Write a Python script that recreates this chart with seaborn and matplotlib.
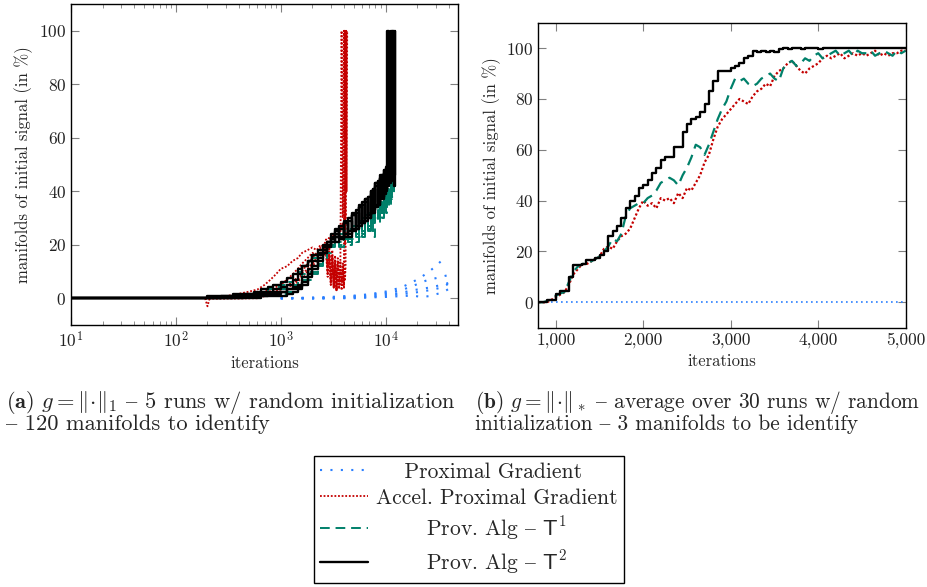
import numpy as np
import matplotlib
import matplotlib.pyplot as plt
import seaborn as sns
from matplotlib.lines import Line2D

matplotlib.use("Agg")

sns.set_theme(style="ticks")
plt.rcParams['font.family'] = ['cmr10', 'DejaVu Serif']
plt.rcParams['mathtext.fontset'] = 'cm'
plt.rcParams['axes.formatter.use_mathtext'] = True
plt.rcParams['axes.unicode_minus'] = False

BLUE = "#2a7fff"
RED = "#c40000"
GREEN = "#00806a"
BLACK = "#000000"
DASH = "{"  # en dash slot in the cmr10 font

# ---- (a) l1 norm, 5 runs each, log iterations ----
grid_a = [10, 190, 200, 270, 350, 450, 550, 650, 750, 850,
          1000, 1150, 1300, 1450, 1600, 1800, 2000, 2250, 2500, 2750,
          3000, 3300, 3600, 4000, 4400, 4800, 5200, 5600, 6000, 6400,
          6800, 7200, 7600, 8000, 8400, 8800, 9200, 9600, 10000, 10400,
          10800, 11200, 11600, 12000, 12400]

t2_runs = [
    [0, 0, 0.8, 0.8, 1.7, 1.7, 2.5, 3.3, 4.2, 5, 6, 7.5, 9, 11, 12, 14, 16, 18, 20, 21,
     23, 25, 22, 28, 23, 31, 26, 34, 28, 36, 30, 39, 33, 42, 35, 45, 38, 47, 41, 100, 45, 100],
    [0, 0, 0, 0.8, 0.8, 1.7, 1.7, 2.5, 2.5, 3.3, 4.2, 5, 7, 9, 12, 14, 16, 17, 19, 21,
     24, 21, 27, 23, 30, 25, 33, 27, 36, 29, 38, 32, 41, 34, 44, 37, 46, 40, 49, 43, 50, 100],
    [0, 0, 0, 0, 0.8, 0.8, 0.8, 1.7, 1.7, 2.5, 2.5, 3.3, 4.2, 5, 8, 11, 14, 16, 18, 20,
     22, 26, 23, 29, 25, 32, 27, 35, 29, 37, 31, 40, 33, 43, 36, 45, 38, 48, 41, 49, 44, 50, 100],
    [0, 0, 0, 0, 0, 0.8, 0.8, 0.8, 1.7, 1.7, 2.5, 3.3, 3.3, 4.2, 6, 9, 12, 15, 17, 19,
     21, 24, 22, 28, 24, 31, 26, 34, 28, 37, 30, 40, 32, 43, 35, 46, 37, 48, 40, 50, 43, 47, 100, 42, 100],
    [0, 0, 0, 0, 0, 0, 0, 0.8, 0.8, 0.8, 0.8, 1.7, 2.5, 3.3, 5, 8, 11, 14, 17, 19,
     21, 23, 26, 24, 29, 26, 32, 28, 35, 30, 38, 32, 41, 35, 44, 37, 46, 39, 48, 42, 50, 44, 49, 46, 100],
]

t1_runs = [
    [0, 0, 0, 0.8, 0.8, 1.7, 1.7, 2.5, 3.3, 4.2, 5, 6, 8, 10, 12, 14, 15, 17, 19, 20,
     21, 22, 20, 24, 21, 26, 23, 28, 24, 30, 26, 32, 28, 34, 30, 36, 32, 38, 34, 40, 36, 80, 40, 100],
    [0, 0, 0, 0, 0.8, 0.8, 1.7, 1.7, 2.5, 2.5, 3.3, 4.2, 5, 7, 9, 11, 13, 15, 17, 19,
     20, 21, 23, 21, 25, 22, 27, 23, 29, 25, 31, 27, 33, 29, 35, 31, 37, 33, 39, 35, 41, 37, 100],
    [0, 0, 0, 0, 0, 0.8, 0.8, 1.7, 1.7, 2.5, 2.5, 3.3, 4.2, 5, 7, 10, 13, 16, 18, 20,
     22, 23, 21, 25, 22, 27, 24, 29, 25, 31, 27, 33, 29, 35, 30, 37, 32, 39, 34, 41, 36, 43, 38, 45, 100],
    [0, 0, 0, 0, 0, 0, 0.8, 0.8, 1.7, 1.7, 2.5, 2.5, 3.3, 4.2, 6, 8, 10, 13, 15, 17,
     19, 21, 19, 23, 20, 25, 21, 27, 23, 29, 25, 31, 23, 33, 28, 35, 30, 37, 32, 39, 34, 41, 100],
    [0, 0, 0, 0, 0, 0, 0, 0.8, 0.8, 1.7, 1.7, 2.5, 3.3, 4.2, 5, 7, 9, 12, 15, 18,
     20, 22, 24, 22, 26, 23, 28, 24, 30, 26, 32, 28, 34, 30, 36, 32, 38, 34, 40, 36, 42, 38, 44, 40, 100],
]

grid_acc = [190, 200, 210, 300, 400, 500, 600, 700, 800, 900,
            1000, 1150, 1300, 1450, 1600, 1800, 2000, 2200, 2400, 2600,
            2700, 2800, 2900, 3000, 3100, 3200, 3300, 3400, 3500, 3600,
            3700, 3800, 3900, 4000, 4050, 4100, 4150, 4200, 4250, 4300,
            4350]

acc_runs = [
    [0, -3, 0, 0.8, 1.7, 2.5, 3.3, 5, 7, 9, 11, 12, 14, 15, 17, 18, 19, 18, 20, 19,
     17, 8, 18, 5, 15, 4, 12, 3, 14, 5, 11, 100, 30, 100, 60, 100],
    [0, 0, 0, 0, 0.8, 0.8, 1.7, 2.5, 3.3, 4.2, 5, 7, 9, 11, 13, 15, 17, 16, 18, 17,
     19, 10, 17, 6, 16, 4, 13, 3, 12, 4, 10, 3, 8, 5, 100, 20, 100, 40, 100],
    [0, 0, 0, 0, 0, 0.8, 0.8, 1.7, 2.5, 3.3, 4.2, 5, 6, 8, 10, 13, 15, 17, 19, 20,
     22, 21, 23, 22, 24, 23, 25, 24, 26, 25, 27, 26, 28, 27, 100, 50, 100],
    [0, 0, 0, 0, 0, 0, 0.8, 1.7, 1.7, 2.5, 3.3, 4.2, 5, 7, 9, 11, 13, 15, 17, 16,
     18, 9, 17, 5, 16, 4, 14, 3, 12, 4, 10, 6, 12, 4, 9, 100, 30, 100],
    [0, 0, 0, 0, 0, 0, 0, 0.8, 1.7, 2.5, 3.3, 4.2, 5, 6, 8, 10, 12, 14, 16, 18,
     20, 12, 19, 7, 18, 5, 16, 3, 15, 4, 14, 5, 13, 4, 11, 7, 12, 100, 40, 100],
]

grid_pg = [1000, 2000, 3000, 5000, 7000, 10000, 14000, 18000, 22000, 26000,
           30000, 34000, 38000, 42000, 45000]

pg_runs = [
    [0, 0.3, 0.5, 1, 1.5, 2.5, 4, 6, 8, 10, 12, 14, 15.5],
    [0, 0, 0.3, 0.8, 1.2, 2, 3, 4.5, 6, 7, 7.5, 8, 8.5, 9, 8.5],
    [0, 0, 0, 0.5, 0.8, 1.5, 2, 3, 3.5, 4, 4.5, 5, 5.5, 6, 7],
    [0, 0, 0, 0.2, 0.5, 1, 1.5, 2, 2.5, 3, 3.5, 4, 5, 6, 5],
    [0, 0, 0, 0, 0.3, 0.5, 0.8, 1, 0.5, 0.8, 1.5, 2, 3, 4, 4.5],
]

# ---- (b) nuclear norm, average over 30 runs ----
iters_b = np.arange(800, 5001, 50)
t2_avg = [0, 0, 1, 1, 3.3, 4.5, 4.5, 10, 14.5, 14.5,
          15, 16.5, 16.5, 17.5, 18.5, 20, 26, 28, 30, 33,
          37, 40, 42, 45, 46, 48, 51, 53, 56, 57,
          57, 61, 61, 67, 70, 72, 73, 75, 78, 83,
          87, 91, 91, 91, 92, 93, 94, 96, 97, 99,
          98.5, 99, 98.5, 99, 98.5, 99.5, 100, 99.5, 100, 100,
          99.5, 100, 100, 100, 99.5, 100, 100, 100, 100, 100,
          100, 100, 100, 100, 100, 100, 100, 100, 100, 100,
          100, 100, 100, 100, 100]
t1_avg = [0, 0, 0.5, 1.5, 2.5, 3.5, 4, 8, 12, 14,
          15, 15.5, 16, 17, 18, 20, 22, 25, 24, 27,
          34, 37, 38, 39, 39, 41, 42, 44, 47, 48,
          49, 48, 46, 50, 53, 57, 62, 61, 58, 62,
          67, 72, 76, 79, 84, 88, 87, 88, 86, 85,
          86, 88, 89, 90, 88, 87, 92, 94, 95, 93,
          94, 96, 95, 97, 98, 96, 97, 98, 99, 97,
          98, 99, 97, 99, 98, 98, 99, 97, 98, 99,
          98, 97, 99, 98, 99]
acc_avg = [0, 0, 0, 1, 2, 3, 4, 7, 11, 13,
           15, 15, 16, 17, 18, 21, 22, 21, 24, 26,
           27, 29, 33, 37, 40, 38, 39, 37, 41, 40,
           41, 39, 43, 41, 45, 44, 47, 50, 55, 58,
           64, 69, 72, 74, 76, 78, 80, 79, 78, 81,
           83, 84, 86, 85, 89, 91, 92, 94, 95, 93,
           91, 90, 92, 93, 94, 96, 97, 96, 97, 98,
           96, 97, 98, 97, 98, 97, 98, 99, 97, 98,
           97, 98, 98, 99, 99]
pg_iters = [950, 5000]
pg_avg = [0, 0]

legend_labels = ["    Proximal Gradient", "Accel. Proximal Gradient",
                 "       Prov. Alg " + DASH + r" $\mathsf{T}^1$",
                 "       Prov. Alg " + DASH + r" $\mathsf{T}^2$"]

styles = {
    "pg": dict(color=BLUE, linestyle=(0, (1, 4)), lw=1.5),
    "acc": dict(color=RED, linestyle=(0, (1, 1)), lw=1.3),
    "t1": dict(color=GREEN, linestyle=(0, (5, 3)), lw=1.4),
    "t2": dict(color=BLACK, linestyle="-", lw=1.7),
}


def draw(ax, x, y, st, steps=False):
    sns.lineplot(x=list(x)[:len(y)], y=y, ax=ax, estimator=None, sort=False,
                 legend=False, drawstyle="steps-post" if steps else "default", **st)


fig = plt.figure(figsize=(9.27, 5.87), dpi=100)
ax1 = fig.add_axes([0.0766, 0.4463, 0.4175, 0.5468])
ax2 = fig.add_axes([0.5807, 0.4417, 0.3963, 0.5196])

for run in pg_runs:
    draw(ax1, grid_pg, run, styles["pg"])
for run in acc_runs:
    draw(ax1, grid_acc, run, styles["acc"])
for run in t1_runs:
    draw(ax1, grid_a, run, styles["t1"], steps=True)
for run in t2_runs:
    draw(ax1, grid_a, run, styles["t2"], steps=True)

ax1.set_xscale("log")
ax1.set_xlim(10, 4.9e4)
ax1.set_xticks([1e1, 1e2, 1e3, 1e4])

draw(ax2, pg_iters, pg_avg, dict(styles["pg"], linestyle=(0, (1, 2)), lw=1.2))
draw(ax2, iters_b, acc_avg, dict(styles["acc"], lw=1.6))
draw(ax2, iters_b, t1_avg, dict(styles["t1"], lw=1.6))
draw(ax2, iters_b, t2_avg, styles["t2"], steps=True)
ax2.set_xlim(800, 5000)
ax2.set_xticks([1000, 2000, 3000, 4000, 5000])
ax2.set_xticklabels(["1,000", "2,000", "3,000", "4,000", "5,000"])

for ax in (ax1, ax2):
    ax.set_ylim(-10, 110)
    ax.set_yticks([0, 20, 40, 60, 80, 100])
    ax.tick_params(which="both", direction="in", top=True, right=True,
                   color="#808080", labelsize=12.5, labelcolor="#222222")
    ax.tick_params(which="major", length=6, width=0.8)
    ax.tick_params(which="minor", length=3, width=0.6)
    for s in ax.spines.values():
        s.set_color("black")
        s.set_linewidth(1.0)
    ax.set_xlabel("iterations", fontsize=12)
    ax.set_ylabel("manifolds of initial signal (in %)", fontsize=12)

norm = r"\|\!\cdot\!\|"
fig.text(0.006, 1 - 402 / 587,
         r"$\mathbf{(a)}$ $g = " + norm + r"_1$ " + DASH + " 5 runs w/ random initialization",
         fontsize=16.2, va="center", ha="left")
fig.text(0.006, 1 - 424 / 587, DASH + " 120 manifolds to identify",
         fontsize=16.2, va="center", ha="left")
fig.text(0.512, 1 - 402 / 587,
         r"$\mathbf{(b)}$ $g = " + norm + r"_*$ " + DASH + " average over 30 runs w/ random",
         fontsize=15.4, va="center", ha="left")
fig.text(0.512, 1 - 424 / 587, "initialization " + DASH + " 3 manifolds to be identify",
         fontsize=15.4, va="center", ha="left")

handles = [Line2D([], [], **styles[k]) for k in ("pg", "acc", "t1", "t2")]
leg = fig.legend(handles, legend_labels, loc="upper center",
                 bbox_to_anchor=(0.506, 1 - 456 / 587), fontsize=15.5, frameon=True,
                 fancybox=False, edgecolor="black", framealpha=1, borderaxespad=0,
                 handlelength=2.2, handletextpad=0.4, labelspacing=0.3, borderpad=0.3)
leg.get_frame().set_linewidth(1.0)

fig.savefig("out.png", dpi=100)
